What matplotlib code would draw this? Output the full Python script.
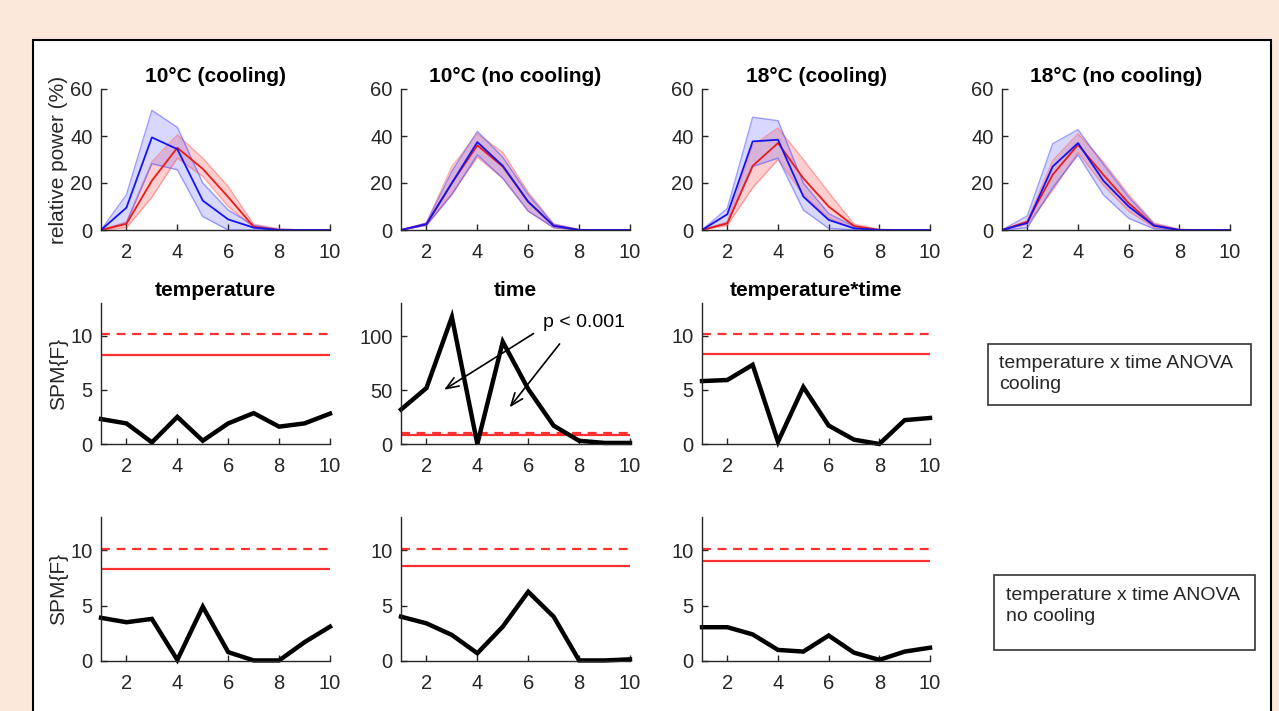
import numpy as np
import matplotlib.pyplot as plt
from matplotlib.patches import Rectangle

plt.rcParams['font.family'] = ['Liberation Sans', 'DejaVu Sans']

x = np.arange(1, 11)

# top row: relative power (%), mean and band (upper / lower) for blue and red groups
titles_top = ['10°C (cooling)', '10°C (no cooling)', '18°C (cooling)', '18°C (no cooling)']
blue_mean = [
    [0, 9.5, 39.4, 34.4, 12.5, 4.5, 1, 0, 0, 0],
    [0, 2.5, 20, 37.4, 27.3, 12, 1.8, 0, 0, 0],
    [0, 6.7, 37.7, 38.4, 14.2, 4.3, 0.7, 0, 0, 0],
    [0, 3, 27, 37, 21, 10, 1.8, 0, 0, 0],
]
blue_hi = [
    [0, 15, 50.9, 43.7, 20, 8.5, 2, 0.3, 0, 0],
    [0, 3, 25, 42, 31, 15, 2.5, 0.2, 0, 0],
    [0, 9.2, 48, 46.5, 20, 7, 1.5, 0.2, 0, 0],
    [0, 6, 36.7, 42.7, 28, 14, 2.5, 0.2, 0, 0],
]
blue_lo = [
    [0, 3, 28.2, 25.6, 5.7, 0, 0, 0, 0, 0],
    [0, 2, 15, 32, 22, 8, 1, 0, 0, 0],
    [0, 3, 27, 30.6, 8.5, 0.7, 0, 0, 0, 0],
    [0, 1, 18, 32, 15, 5, 0.5, 0, 0, 0],
]
red_mean = [
    [0, 2.6, 21, 35, 26, 14, 1.4, 0, 0, 0],
    [0, 2.5, 20, 36, 27, 12, 1.8, 0, 0, 0],
    [0, 2.8, 27.3, 37, 22, 10, 1.7, 0, 0, 0],
    [0, 3.5, 23.5, 36.3, 23.5, 11.4, 2, 0, 0, 0],
]
red_hi = [
    [0, 3.5, 29, 40.5, 30.6, 18.5, 2.4, 0.5, 0, 0],
    [0, 3, 27, 41, 33, 16, 2.5, 0.2, 0, 0],
    [0, 3.5, 36, 43.4, 30, 16, 2.5, 0.3, 0, 0],
    [0, 4, 29.5, 41, 29, 15, 3, 0.3, 0, 0],
]
red_lo = [
    [0, 1, 14, 30.6, 22.8, 10, 1, 0, 0, 0],
    [0, 2, 15.6, 31, 22, 8, 1, 0, 0, 0],
    [0, 2, 18, 30, 15, 5, 0.7, 0, 0, 0],
    [0, 2.5, 17, 33, 19, 8, 1, 0, 0, 0],
]

# SPM{F} rows
titles_mid = ['temperature', 'time', 'temperature*time']
spm_cool = [
    [2.3, 1.9, 0.15, 2.5, 0.3, 1.9, 2.85, 1.6, 1.9, 2.8],
    [32, 52, 118, 0, 95, 51, 17, 3, 1, 1],
    [5.8, 5.9, 7.3, 0.2, 5.25, 1.7, 0.4, 0, 2.2, 2.4],
]
thr_cool = [8.2, 8.3, 8.3]
spm_nocool = [
    [3.9, 3.5, 3.8, 0.1, 4.9, 0.8, 0.05, 0.05, 1.7, 3.1],
    [4.0, 3.4, 2.35, 0.7, 3.1, 6.25, 4.0, 0.05, 0.05, 0.15],
    [3.05, 3.05, 2.4, 1.0, 0.85, 2.3, 0.75, 0.1, 0.85, 1.2],
]
thr_nocool = [8.3, 8.55, 9.0]
thr_dash = 10.1

W, H = 1279, 711
fig = plt.figure(figsize=(W / 100, H / 100), dpi=100)
fig.patch.set_facecolor('#FBE8DA')
fig.patches.append(Rectangle((33 / W, -0.05), (1271 - 33) / W, 1 - 40 / H + 0.05,
                             transform=fig.transFigure, facecolor='white',
                             edgecolor='black', linewidth=1.5, zorder=-5))

gray = '#262626'


def add_ax(left, right, top, bottom):
    ax = fig.add_axes([left / W, 1 - bottom / H, (right - left) / W, (bottom - top) / H])
    ax.set_facecolor('none')
    for s in ['top', 'right']:
        ax.spines[s].set_visible(False)
    for s in ['left', 'bottom']:
        ax.spines[s].set_color(gray)
        ax.spines[s].set_linewidth(1.0)
    ax.tick_params(direction='in', length=4, width=1, colors=gray, labelsize=14.5, pad=6)
    ax.tick_params(axis='x', pad=9.5)
    ax.set_xlim(1, 10)
    ax.set_xticks([2, 4, 6, 8, 10])
    return ax


cols = [(101, 330), (401, 630), (702, 930), (1002, 1230)]
blue = '#1414F0'
red = '#E81C1C'

for i in range(4):
    ax = add_ax(cols[i][0], cols[i][1], 89, 230)
    ax.fill_between(x, red_lo[i], red_hi[i], color='#FF6060', alpha=0.3, lw=0)
    ax.plot(x, red_hi[i], color='#FF6060', lw=1, alpha=0.5)
    ax.plot(x, red_lo[i], color='#FF6060', lw=1, alpha=0.5)
    ax.fill_between(x, blue_lo[i], blue_hi[i], color='#5050FF', alpha=0.22, lw=0)
    ax.plot(x, blue_hi[i], color='#5050FF', lw=1, alpha=0.55)
    ax.plot(x, blue_lo[i], color='#5050FF', lw=1, alpha=0.55)
    ax.plot(x, red_mean[i], color=red, lw=1.3)
    ax.plot(x, blue_mean[i], color=blue, lw=1.3)
    ax.set_ylim(0, 60)
    ax.set_yticks([0, 20, 40, 60])
    ax.set_title(titles_top[i], fontsize=15, fontweight='bold', pad=5)
    if i == 0:
        ax.set_ylabel('relative power (%)', fontsize=15, color=gray, labelpad=2)

for row, (data, thr, top, bot) in enumerate([(spm_cool, thr_cool, 303, 444),
                                             (spm_nocool, thr_nocool, 517, 661)]):
    for i in range(3):
        ax = add_ax(cols[i][0], cols[i][1], top, bot)
        ax.axhline(thr_dash, color='#FF3030', lw=1.6, ls=(0, (4, 3)))
        ax.axhline(thr[i], color='#FF3030', lw=1.6)
        ax.plot(x, data[i], color='black', lw=3.2, solid_joinstyle='miter', clip_on=False)
        if row == 0 and i == 1:
            ax.set_ylim(0, 131)
            ax.set_yticks([0, 50, 100])
            ax.text(8.2, 113, 'p < 0.001', fontsize=14, ha='center', va='center')
            ax.annotate('', xy=(2.6, 49), xytext=(6.3, 104),
                        arrowprops=dict(arrowstyle='->,head_length=0.9,head_width=0.35',
                                        color='black', lw=1.2))
            ax.annotate('', xy=(5.2, 32), xytext=(7.3, 95),
                        arrowprops=dict(arrowstyle='->,head_length=0.9,head_width=0.35',
                                        color='black', lw=1.2))
        else:
            ax.set_ylim(0, 13)
            ax.set_yticks([0, 5, 10])
        if row == 0:
            ax.set_title(titles_mid[i], fontsize=15, fontweight='bold', pad=5)
        if i == 0:
            ax.set_ylabel('SPM{F}', fontsize=15, color=gray, labelpad=2)

# annotation boxes
fig.patches.append(Rectangle((988 / W, 1 - 405 / H), (1251 - 988) / W, (405 - 344) / H,
                             transform=fig.transFigure, facecolor='white',
                             edgecolor='#333333', linewidth=1.2))
fig.text(999 / W, 1 - 374 / H, 'temperature x time ANOVA\ncooling', fontsize=14,
         va='center', ha='left', color=gray, linespacing=1.35)
fig.patches.append(Rectangle((994 / W, 1 - 650 / H), (1255 - 994) / W, (650 - 575) / H,
                             transform=fig.transFigure, facecolor='white',
                             edgecolor='#333333', linewidth=1.2))
fig.text(1006 / W, 1 - 606 / H, 'temperature x time ANOVA\nno cooling', fontsize=14,
         va='center', ha='left', color=gray, linespacing=1.35)

fig.savefig('out.png', dpi=100, facecolor=fig.get_facecolor())
